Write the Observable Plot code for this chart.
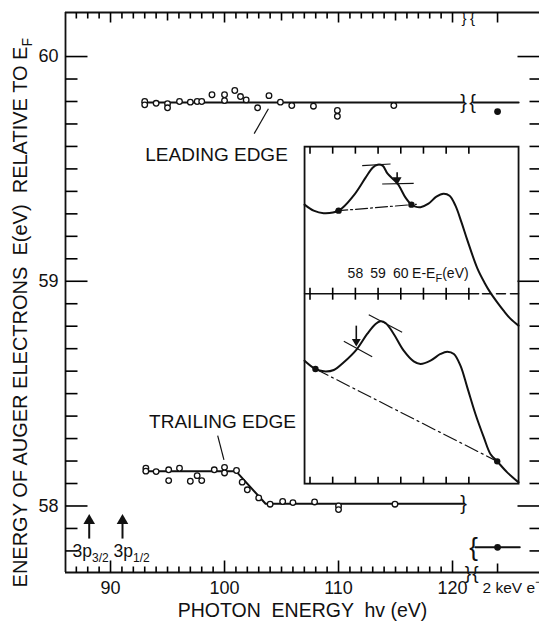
<!DOCTYPE html>
<html><head><meta charset="utf-8">
<script src="https://cdn.jsdelivr.net/npm/d3@7"></script>
<script src="https://cdn.jsdelivr.net/npm/@observablehq/plot@0.6"></script>
<style>body{margin:0;background:#fff}</style>
</head><body><div id="chart"></div>
<script>
// ---------------- data (main panel) ----------------
const hvLeading = [93, 93, 94, 95, 95, 96.05, 97, 97.6, 98, 98.9, 100, 100, 100.9, 101.4, 101.9, 102.9, 103.9, 104.9, 105.9, 107.8, 109.9, 109.9, 114.85];
const eLeading  = [59.800, 59.785, 59.792, 59.790, 59.772, 59.800, 59.797, 59.800, 59.800, 59.830, 59.830, 59.804, 59.849, 59.822, 59.807, 59.772, 59.826, 59.797, 59.782, 59.779, 59.760, 59.734, 59.782];
const hvTrailing = [93.1, 93.1, 94.0, 95.1, 95.1, 96.05, 97.0, 97.6, 98.0, 99.1, 100.0, 100.0, 101.05, 101.55, 102.0, 103.0, 104.0, 105.1, 106.0, 107.9, 110.0, 110.0, 114.95];
const eTrailing  = [58.168, 58.155, 58.153, 58.161, 58.113, 58.168, 58.110, 58.135, 58.113, 58.161, 58.172, 58.147, 58.158, 58.106, 58.072, 58.036, 58.008, 58.020, 58.015, 58.018, 58.000, 57.984, 58.008];
const leadFitHv = [92.8, 120.95];           const leadFitE = [59.795, 59.795];
const leadKeVHv = [121.85, 125.8];          const leadKeVE = [59.795, 59.795];
const trailFitHv = [92.9, 101.0, 103.6, 120.95]; const trailFitE = [58.155, 58.155, 58.010, 58.010];
const trailKeVHv = [122.0, 125.9];          const trailKeVE = [57.816, 57.816];
const keVHv = 123.95;                        // position of the "2 keV e-" column
const keVDotsE = [59.755, 57.816];
const edgeHv = [88.13, 91.05];               // 3p3/2, 3p1/2 thresholds
const edgeLabelHv = [86.67, 90.26];
const edgeLabels = ["3p3/2", "3p1/2"];

// axes
const xDomain = [86.05, 127.63];
const yDomain = [57.704, 60.196];
const xTicksMinor = [87,88,89,91,92,93,94,96,97,98,99,101,102,103,104,106,107,108,109,111,112,113,114,116,117,118,119];
const xTicksFive  = [95, 105, 115];
const xTicksTen   = [90, 100, 110, 120];
const xTickLabels = ["90", "100", "110", "120"];
const yTicksMinor = [57.8,57.9,58.1,58.2,58.3,58.4,58.5,58.6,58.7,58.8,58.9,59.1,59.2,59.3,59.4,59.5,59.6,59.7,59.8,59.9];
const yTicksMajor = [58, 59, 60];
const yTickLabels = ["58", "59", "60"];
const xTitle = "PHOTON  ENERGY  hv (eV)";
const yTitle = "ENERGY OF AUGER ELECTRONS  E(eV)  RELATIVE TO EF";
const keVLabel = "2 keV e-";

// ---------------- data (inset) ----------------
const insetBoxHv = [107.02, 125.79];
const insetBoxE  = [58.100, 59.599];
const insetEDomain = [55.76, 65.19];
const insetIDomain = [0, 337];
const topCurveE = [55.76,56.16,56.60,57.26,57.92,58.45,58.76,58.98,59.20,59.42,59.86,60.21,60.47,60.65,60.87,61.22,61.57,61.88,62.15,62.41,62.68,62.94,63.38,63.69,63.95,64.26,64.53,64.83,65.19];
const topCurveI = [279,273,270.5,273,288,306,316,319,318,310,300,286,279,277,276.5,280,287,290,288,278,261,243,215,201,191,181,173,165,158];
const botCurveE = [55.76,56.24,56.61,57.05,57.49,58.04,58.52,58.89,59.11,59.33,59.69,60.13,60.57,60.87,61.31,61.75,62.05,62.34,62.63,62.93,63.29,63.66,63.95,64.25,64.69,65.19];
const botCurveI = [123,114.7,112.3,113.7,121.3,133.7,149.7,159.7,162.3,160.7,149.7,133,122.3,119.7,123,129.7,132,129.7,118,96.3,69.7,46.3,29.7,22.3,11.3,1.3];
const topDotsE = [57.26, 60.47];  const topDotsI = [273, 279];
const botDotsE = [56.24, 64.25];  const botDotsI = [114.7, 22.3];
const topBaseE = [57.13, 60.69];  const topBaseI = [272.7, 279.4];
const botBaseE = [56.24, 64.25];  const botBaseI = [114.7, 22.3];
const topTangents = [{e1:58.30,i1:318,e2:59.55,i2:319.7},{e1:59.18,i1:299.7,e2:60.57,i2:300.3}];
const botTangents = [{e1:58.59,i1:169,e2:60.06,i2:151.3},{e1:57.49,i1:142.3,e2:58.74,i2:127}];
const insetArrows = [{e:59.84, from:311.3, to:301.3},{e:58.04, from:158, to:139.7}];
const dividerI = 190;
const insetTicks = [56,57,58,59,60,61,62,63];
const insetTickLabels = ["58","59","60"];
const insetTickLabelE = [58,59,60];
const insetUnitLabel = "E-EF(eV)";

// ---------------- build ----------------
const ink = "#111111";
const FONT = "'Liberation Sans', Arial, Helvetica, sans-serif";
const FW = 539 - 65, FH = 625 - 12 - 53;
const kx = (xDomain[1] - xDomain[0]) / FW;   // eV per pixel (tick lengths)
const ky = (yDomain[1] - yDomain[0]) / FH;
const pts = (xs, ys) => xs.map((x, i) => ({x, y: ys[i]}));
const leading = pts(hvLeading, eLeading);
const trailing = pts(hvTrailing, eTrailing);

// tick segments as links (x1,y1)-(x2,y2)
const ySeg = (ticks, len, side) => ticks.map(v => ({
  x1: side === "left" ? xDomain[0] : xDomain[1] - len * kx,
  x2: side === "left" ? xDomain[0] + len * kx : xDomain[1], y1: v, y2: v}));
const xSeg = (ticks, len, side) => ticks.map(v => ({x1: v, x2: v,
  y1: side === "top" ? yDomain[1] : yDomain[0],
  y2: side === "top" ? yDomain[1] - len * ky : yDomain[0] + len * ky}));
const tickSegs = [].concat(
  ySeg(yTicksMajor, 22, "left"), ySeg(yTicksMinor, 12, "left"),
  ySeg(yTicksMajor, 22, "right"), ySeg(yTicksMinor, 10, "right"),
  xSeg(xTicksMinor, 6, "top"), xSeg(xTicksFive, 8, "top"), xSeg(xTicksTen.concat([keVHv]), 10, "top"),
  xSeg(xTicksMinor.concat(xTicksFive), 6, "bottom"), xSeg(xTicksTen, 12, "bottom"), xSeg([keVHv], 9, "bottom"));

const breaks = [
  {x: 120.97, y: 59.795, t: "}", s: 20}, {x: 121.75, y: 59.795, t: "{", s: 20},
  {x: 120.97, y: 58.010, t: "}", s: 20}, {x: 121.85, y: 57.816, t: "{", s: 26},
  {x: 121.35, y: 57.704, t: "}", s: 19}, {x: 122.0, y: 57.704, t: "{", s: 19},
  {x: 121.0, y: 60.170, t: "}", s: 15}, {x: 121.75, y: 60.170, t: "{", s: 15}
];

const main = Plot.plot({
  width: 539, height: 625,
  marginLeft: 65, marginRight: 0, marginTop: 12, marginBottom: 53,
  x: {domain: xDomain, axis: null},
  y: {domain: yDomain, axis: null},
  style: {fontFamily: FONT, background: "white", color: ink},
  marks: [
    Plot.ruleX([xDomain[0]], {stroke: ink, strokeWidth: 1.8}),
    Plot.ruleY(yDomain, {stroke: ink, strokeWidth: 1.8}),
    // tick labels
    Plot.text(yTicksMajor, {x: () => xDomain[0], y: d => d, text: (d, i) => yTickLabels[i], textAnchor: "end", dx: -7, fontSize: 18, fill: ink}),
    Plot.text(xTicksTen, {x: d => d, y: () => yDomain[0], text: (d, i) => xTickLabels[i], dy: 16, fontSize: 18, fill: ink}),
    Plot.text([keVLabel], {x: () => keVHv, y: () => yDomain[0], text: d => d, textAnchor: "start", dx: -15, dy: 16, fontSize: 15.5, fill: ink}),
    // axis titles
    Plot.text([xTitle], {frameAnchor: "bottom", text: d => d, dy: 44, fontSize: 19.5, fill: ink}),
    Plot.text([yTitle], {x: () => xDomain[0], y: () => 58.86, text: d => d, dx: -45, rotate: -90, fontSize: 20, fill: ink}),
    // fitted lines
    Plot.line(pts(leadFitHv, leadFitE), {x: "x", y: "y", stroke: ink, strokeWidth: 2}),
    Plot.line(pts(leadKeVHv, leadKeVE), {x: "x", y: "y", stroke: ink, strokeWidth: 2}),
    Plot.line(pts(trailFitHv, trailFitE), {x: "x", y: "y", stroke: ink, strokeWidth: 2}),
    Plot.line(pts(trailKeVHv, trailKeVE), {x: "x", y: "y", stroke: ink, strokeWidth: 2}),
    // break marks
    Plot.text(breaks, {x: "x", y: "y", text: "t", fontSize: d => d.s, fill: ink}),
    // measured points
    Plot.dot(leading, {x: "x", y: "y", r: 2.8, stroke: ink, fill: "white", strokeWidth: 1.3}),
    Plot.dot(trailing, {x: "x", y: "y", r: 2.8, stroke: ink, fill: "white", strokeWidth: 1.3}),
    Plot.dot(keVDotsE, {x: () => keVHv, y: d => d, r: 3.4, fill: ink}),
    // labels with leaders
    Plot.text(["LEADING EDGE"], {x: () => 99.3, y: () => 59.564, text: d => d, fontSize: 19, fill: ink}),
    Plot.link([{x1: 102.6, y1: 59.657, x2: 103.85, y2: 59.768}], {x1: "x1", y1: "y1", x2: "x2", y2: "y2", stroke: ink, strokeWidth: 1.2}),
    Plot.text(["TRAILING EDGE"], {x: () => 99.82, y: () => 58.376, text: d => d, fontSize: 19, fill: ink}),
    Plot.link([{x1: 99.4, y1: 58.313, x2: 99.95, y2: 58.205}], {x1: "x1", y1: "y1", x2: "x2", y2: "y2", stroke: ink, strokeWidth: 1.2}),
    // 3p thresholds
    Plot.link(edgeHv, {x1: d => d, x2: d => d, y1: () => 57.855, y2: () => 57.928, stroke: ink, strokeWidth: 2}),
    Plot.dot(edgeHv, {x: d => d, y: () => 57.935, symbol: "triangle", r: 4.3, fill: ink}),
    Plot.text(edgeLabels, {x: (d, i) => edgeLabelHv[i], y: () => 57.8, text: d => d, textAnchor: "start", fontSize: 17.5, fill: ink}),
    // axis ticks (drawn last)
    Plot.link(tickSegs, {x1: "x1", y1: "y1", x2: "x2", y2: "y2", stroke: "#000000", strokeWidth: 1.6, strokeOpacity: 1})
  ]
});

// ---------------- inset ----------------
const sx = main.scale("x"), sy = main.scale("y");
const ix0 = sx.apply(insetBoxHv[0]), ix1 = sx.apply(insetBoxHv[1]);
const iy0 = sy.apply(insetBoxE[1]), iy1 = sy.apply(insetBoxE[0]);
const IW = Math.round(ix1 - ix0), IH = Math.round(iy1 - iy0);
const ki = (insetIDomain[1] - insetIDomain[0]) / IH;   // intensity units per pixel
const insetTickSegs = [].concat(
  insetTicks.map(v => ({x1: v, x2: v, y1: insetIDomain[1], y2: insetIDomain[1] - 7 * ki})),
  insetTicks.map(v => ({x1: v, x2: v, y1: dividerI - 6 * ki, y2: dividerI + 6 * ki})),
  insetTicks.map(v => ({x1: v, x2: v, y1: insetIDomain[0], y2: insetIDomain[0] + 7 * ki})));

const inset = Plot.plot({
  width: IW, height: IH, marginTop: 0, marginRight: 0, marginBottom: 0, marginLeft: 0,
  x: {domain: insetEDomain, axis: null},
  y: {domain: insetIDomain, axis: null},
  style: {fontFamily: FONT, color: ink},
  marks: [
    Plot.frame({stroke: ink, strokeWidth: 1.8}),
    Plot.line([{x: insetEDomain[0], y: dividerI}, {x: 63.43, y: dividerI}], {x: "x", y: "y", stroke: ink, strokeWidth: 1.5}),
    Plot.line([{x: 63.6, y: dividerI}, {x: insetEDomain[1], y: dividerI}], {x: "x", y: "y", stroke: ink, strokeWidth: 1.5, strokeDasharray: "9,5"}),
    Plot.text(insetTickLabelE, {x: d => d, y: () => 210, text: (d, i) => insetTickLabels[i], fontSize: 14, fill: ink}),
    Plot.text([insetUnitLabel], {x: () => 60.5, y: () => 210, text: d => d, textAnchor: "start", fontSize: 14, fill: ink}),
    Plot.line(pts(topBaseE, topBaseI), {x: "x", y: "y", stroke: ink, strokeWidth: 1.2, strokeDasharray: "12,3,2,3"}),
    Plot.line(pts(botBaseE, botBaseI), {x: "x", y: "y", stroke: ink, strokeWidth: 1.2, strokeDasharray: "14,4,2,4"}),
    Plot.link(topTangents.concat(botTangents), {x1: "e1", y1: "i1", x2: "e2", y2: "i2", stroke: ink, strokeWidth: 1.1}),
    Plot.line(pts(topCurveE, topCurveI), {x: "x", y: "y", curve: "catmull-rom", stroke: ink, strokeWidth: 2}),
    Plot.line(pts(botCurveE, botCurveI), {x: "x", y: "y", curve: "catmull-rom", stroke: ink, strokeWidth: 2}),
    Plot.dot(pts(topDotsE, topDotsI).concat(pts(botDotsE, botDotsI)), {x: "x", y: "y", r: 3.2, fill: ink}),
    Plot.link(insetArrows, {x1: "e", x2: "e", y1: "from", y2: d => d.to + 3, stroke: ink, strokeWidth: 1.6}),
    Plot.dot(insetArrows, {x: "e", y: d => d.to + 2.5, symbol: "triangle", rotate: 180, r: 3.3, fill: ink}),
    Plot.link(insetTickSegs, {x1: "x1", y1: "y1", x2: "x2", y2: "y2", stroke: "#000000", strokeWidth: 1.6})
  ]
});
// move the inset's drawing into a translated group of the main SVG
const ns = "http://www.w3.org/2000/svg";
const holder = document.createElementNS(ns, "g");
holder.setAttribute("transform", `translate(${ix0},${iy0})`);
holder.setAttribute("aria-label", "inset");
Array.from(inset.childNodes).forEach(n => { if (n.nodeName.toLowerCase() !== "style") holder.appendChild(n); });
main.appendChild(holder);

// subscripts / superscripts kept as real text
function rich(svg) {
  svg.querySelectorAll("text").forEach(t => {
    const s = t.textContent;
    if (s === "3p3/2" || s === "3p1/2") {
      t.innerHTML = "3p<tspan dy='5' font-size='12'>" + s.slice(2) + "</tspan>";
    } else if (s === yTitle) {
      t.innerHTML = s.slice(0, -1) + "<tspan dy='5' font-size='14'>F</tspan>";
    } else if (s === insetUnitLabel) {
      t.innerHTML = "E-E<tspan dy='4' font-size='11'>F</tspan><tspan dy='-4'>(eV)</tspan>";
    } else if (s === keVLabel) {
      t.innerHTML = "2 keV e<tspan dy='-7' font-size='12'>−</tspan>";
    }
  });
}
rich(main);
document.getElementById("chart").appendChild(main);
</script></body></html>
